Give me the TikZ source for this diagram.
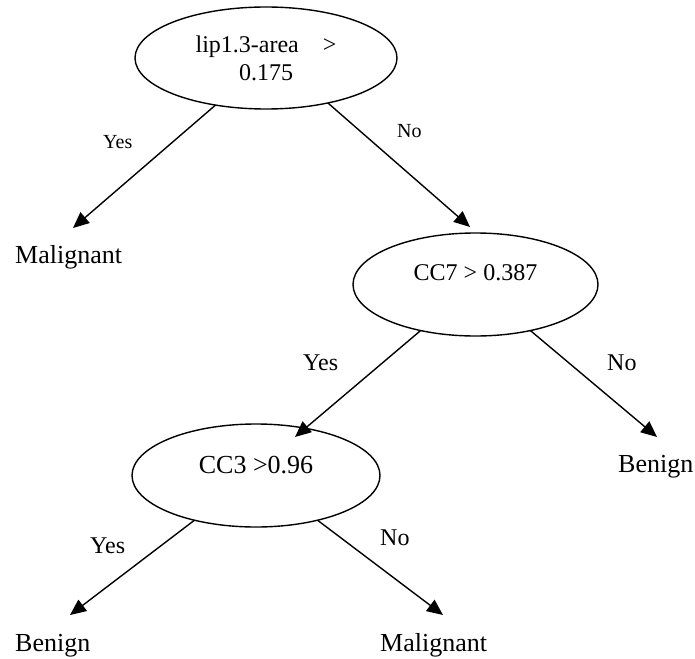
\documentclass[tikz,border=0pt]{standalone}
\usepackage{fontspec}
\setmainfont{Liberation Serif}
\usetikzlibrary{shapes.geometric,arrows.meta}
\begin{document}
\begin{tikzpicture}[x=1pt,y=-1pt,
  decision/.style={ellipse,draw,line width=1.4pt,inner sep=0pt,outer sep=0pt,align=center},
  leaf/.style={anchor=base west,inner sep=0pt,font=\fontsize{26}{30}\selectfont},
  edgelbl/.style={anchor=base west,inner sep=0pt,font=\fontsize{24}{28}\selectfont},
  smalllbl/.style={anchor=base west,inner sep=0pt,font=\fontsize{20}{24}\selectfont},
  branch/.style={line width=1.4pt,-{Triangle[length=16pt,width=14pt]}}]
\useasboundingbox (0,0) rectangle (695,658);

% decision nodes
\node[decision,minimum width=262pt,minimum height=102pt,
      font=\fontsize{24}{28}\selectfont] (root) at (266,58)
      {lip1.3-area~~~~>\\0.175};
\node[decision,minimum width=245pt,minimum height=103pt,
      font=\fontsize{24}{28}\selectfont,text height=17pt,text depth=26pt]
      (cc7) at (475.5,284.5) {CC7 > 0.387};
\node[decision,minimum width=248pt,minimum height=103pt,
      font=\fontsize{26}{30}\selectfont,text height=17pt,text depth=22pt]
      (cc3) at (256,475.5) {CC3 >0.96};

% leaves
\node[leaf] (mal1) at (15,263) {Malignant};
\node[leaf] (ben1) at (618,472) {Benign};
\node[leaf] (ben2) at (15,651) {Benign};
\node[leaf] (mal2) at (380,651) {Malignant};

% arrow tips
\coordinate (tmal1) at (73,228);
\coordinate (tcc7) at (470,227);
\coordinate (tcc3) at (295,437);
\coordinate (tben1) at (657,437);
\coordinate (tben2) at (70,615);
\coordinate (tmal2) at (443,615);

% connectors
\draw[branch] (root.223) -- (tmal1);
\draw[branch] (root.324) -- (tcc7);
\draw[branch] (cc7.220) -- (tcc3);
\draw[branch] (cc7.320) -- (tben1);
\draw[branch] (cc3.216) -- (tben2);
\draw[branch] (cc3.324) -- (tmal2);

% branch labels
\node[smalllbl] (l1) at (103,148) {Yes};
\node[smalllbl] (l2) at (397,137) {No};
\node[edgelbl] (l3) at (303,370) {Yes};
\node[edgelbl] (l4) at (607,370) {No};
\node[edgelbl] (l5) at (90,553) {Yes};
\node[edgelbl] (l6) at (380,545) {No};
\end{tikzpicture}
\end{document}
